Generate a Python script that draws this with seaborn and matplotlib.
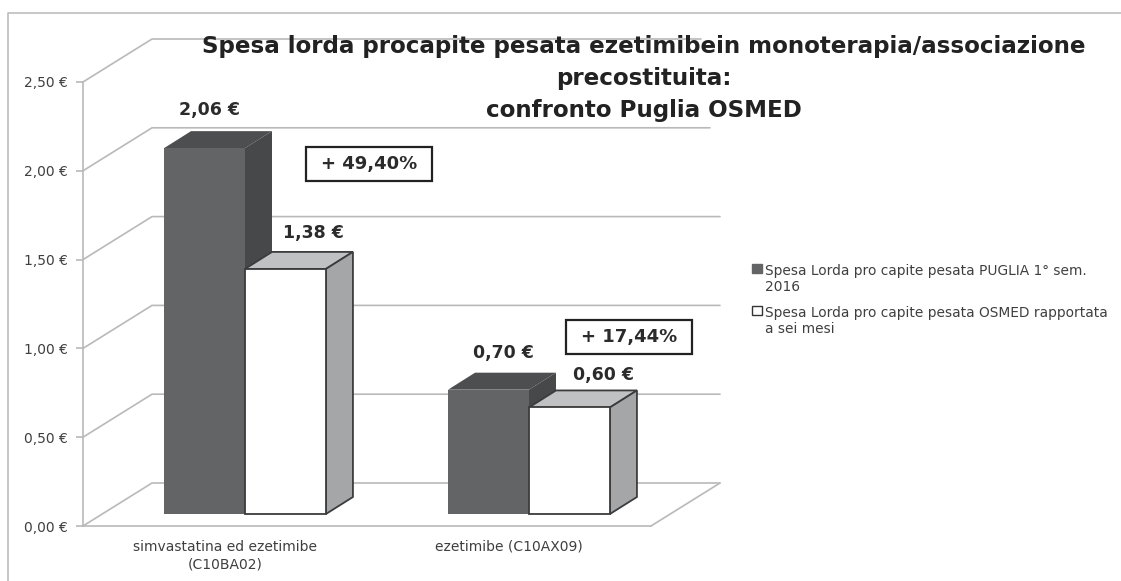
import matplotlib
matplotlib.use('Agg')
import matplotlib.pyplot as plt
import pandas as pd
import seaborn as sns
from matplotlib.lines import Line2D
from matplotlib.patches import Patch, Polygon, Rectangle

categories = ['simvastatina ed ezetimibe\n(C10BA02)', 'ezetimibe (C10AX09)']
puglia = [2.06, 0.70]
osmed = [1.38, 0.60]
series_names = ['Spesa Lorda pro capite pesata PUGLIA 1° sem.\n2016',
                'Spesa Lorda pro capite pesata OSMED rapportata\na sei mesi']
y_ticks = [0, 0.5, 1, 1.5, 2, 2.5]
y_labels = ['0,00 €', '0,50 €', '1,00 €', '1,50 €', '2,00 €', '2,50 €']
bar_labels = ['2,06 €', '0,70 €', '1,38 €', '0,60 €']
deltas = ['+ 49,40%', '+ 17,44%']
title_lines = ['Spesa lorda procapite pesata ezetimibein monoterapia/associazione',
               'precostituita:', 'confronto Puglia OSMED']

W, H = 1121, 581
GRID = '#b9b9b9'
TEXT = '#2b2b2b'
LABEL = '#3f3f3f'
# pseudo 3d depth, in pixels
WALL_DX, WALL_DY = 69, 43
BAR_SHIFT_X, BAR_SHIFT_Y = 20, 12
BAR_DX, BAR_DY = 27, 17


def fx(x):
    return x / W


def fy(y):
    return 1 - y / H


df = pd.DataFrame({
    'cat': categories * 2,
    'value': puglia + osmed,
    'serie': [series_names[0]] * 2 + [series_names[1]] * 2,
})

sns.set_style('white')
plt.rcParams['font.family'] = ['DejaVu Sans']

fig = plt.figure(figsize=(W / 100, H / 100), dpi=100)
ax = fig.add_axes([fx(83), fy(526), fx(568), 444 / H])
sns.barplot(data=df, x='cat', y='value', hue='serie', palette=['#636466', '#ffffff'],
            width=0.57, gap=0, dodge=True, legend=False, saturation=1, ax=ax)
ax.set_xlim(-0.5, 1.5)
ax.set_ylim(0, 2.5)
ax.set_xlabel('')
ax.set_ylabel('')
ax.patch.set_alpha(0)

# axes
for s in ['top', 'right']:
    ax.spines[s].set_visible(False)
for s in ['left', 'bottom']:
    ax.spines[s].set_color(GRID)
    ax.spines[s].set_linewidth(1.2)
ax.set_yticks(y_ticks, y_labels, fontsize=10, color=LABEL)
ax.set_xticks([0, 1], categories, fontsize=10, color=LABEL, linespacing=1.3)
ax.set_xticks([-0.5, 0.5, 1.5], minor=True)
ax.tick_params(axis='x', which='major', length=0, pad=10)
ax.tick_params(axis='x', which='minor', length=5, color=GRID, width=1.2)
ax.tick_params(axis='y', length=5, color=GRID, width=1.2, pad=6, left=True)
ax.grid(False)


def to_px(x, y):
    return ax.transData.transform((x, y))


# walls and floor gridlines
x0 = to_px(-0.5, 0)[0]
x1 = to_px(1.5, 0)[0]
trim = {2.5: 19, 2: 10}
for t in y_ticks:
    py = to_px(0, t)[1]
    back = x1 + WALL_DX - trim.get(t, 0)
    fig.add_artist(Line2D([x0, x0 + WALL_DX, back], [py, py + WALL_DY, py + WALL_DY],
                          color=GRID, lw=1.2, transform=None, zorder=0.5))
py = to_px(0, 0)[1]
fig.add_artist(Line2D([x1, x1 + WALL_DX], [py, py + WALL_DY], color=GRID, lw=1.2,
                      transform=None, zorder=0.5))

# chart frame, only top and left survive in the crop
fig.add_artist(Line2D([1, fx(8), fx(8)], [fy(13), fy(13), 0], color='#bdbdbd', lw=1.2))

# 3d faces built from the bars seaborn drew
styles = [
    {'top': '#4d4e50', 'side': '#47484a', 'edge': 'none', 'z': 3},
    {'top': '#c0c1c3', 'side': '#a5a6a8', 'edge': '#3c3c3c', 'z': 4},
]
bars = list(ax.patches)
label_off = [(5, 38), (15, 37), (28, 36), (34, 32)]
for i, bar in enumerate(bars):
    st = styles[i // 2]
    l, r = to_px(bar.get_x(), 0)[0], to_px(bar.get_x() + bar.get_width(), 0)[0]
    b, t = to_px(0, 0)[1], to_px(0, bar.get_height())[1]
    l, r = l + BAR_SHIFT_X, r + BAR_SHIFT_X
    b, t = b + BAR_SHIFT_Y, t + BAR_SHIFT_Y
    lw = 1.3 if st['edge'] != 'none' else 0
    top = Polygon([(l, t), (l + BAR_DX, t + BAR_DY), (r + BAR_DX, t + BAR_DY), (r, t)],
                  fc=st['top'], ec=st['edge'], lw=lw, transform=None, zorder=st['z'])
    side = Polygon([(r, t), (r + BAR_DX, t + BAR_DY), (r + BAR_DX, b + BAR_DY), (r, b)],
                   fc=st['side'], ec=st['edge'], lw=lw, transform=None, zorder=st['z'])
    front = Rectangle((l, b), r - l, t - b, fc=bar.get_facecolor(), ec=st['edge'], lw=lw,
                      transform=None, zorder=st['z'] + 0.5)
    fig.add_artist(top)
    fig.add_artist(side)
    fig.add_artist(front)
    bar.set_visible(False)
    dx, dy = label_off[i]
    fig.text((l + r) / 2 + dx, t + dy, bar_labels[i], transform=None, ha='center', va='center',
             fontsize=12.5, fontweight='bold', color=TEXT, zorder=6)

# percentage boxes
boxes = [(306, 147, 126, 34), (566, 320, 126, 34)]
for (bx, by, bw, bh), txt in zip(boxes, deltas):
    fig.add_artist(Rectangle((fx(bx), fy(by + bh)), fx(bw), bh / H, fc='white', ec='#222222',
                             lw=1.6, zorder=6))
    fig.text(fx(bx + bw / 2), fy(by + bh / 2), txt, ha='center', va='center', fontsize=13,
             fontweight='bold', color=TEXT, zorder=7)

# title lines on their own, the first one runs wider than the block below it
for line, ly in zip(title_lines, [47, 79, 110]):
    fig.text(fx(644), fy(ly), line, ha='center', va='center', fontsize=16.6, fontweight='bold',
             color='#222222', zorder=8)

handles = [Patch(fc='#636466', ec='#636466'), Patch(fc='white', ec='#333333', lw=1)]
leg = fig.legend(handles, series_names, loc='center left', bbox_to_anchor=(fx(752), fy(300)),
                 frameon=False, fontsize=9.9, handlelength=0.7, handleheight=0.7,
                 handletextpad=0.25, labelspacing=0.85, labelcolor=LABEL, borderaxespad=0,
                 borderpad=0)
# handles sit next to the first line of each entry
for h in leg.legend_handles:
    h.set_y(h.get_y() + 8)

fig.savefig('out.png', dpi=100)
